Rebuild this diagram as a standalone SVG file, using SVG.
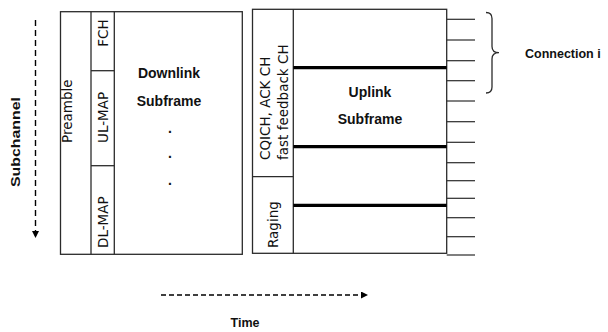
<svg xmlns="http://www.w3.org/2000/svg" width="608" height="332" viewBox="0 0 608 332">
<style>
.box{fill:#fff;stroke:#2b2b2b;stroke-width:1.3}
.ln{stroke:#2b2b2b;stroke-width:1.3;fill:none}
.thick{stroke:#000;stroke-width:3.2}
.tick{stroke:#2b2b2b;stroke-width:1.2}
.rt{font-family:"DejaVu Sans",sans-serif;font-size:13.5px;fill:#111}
.bt{font-family:"Liberation Sans",Arial,sans-serif;font-weight:bold;font-size:14px;fill:#111;text-anchor:middle}
.lbl{font-family:"Liberation Sans",Arial,sans-serif;font-weight:bold;font-size:12.5px;fill:#111}
.dot{font-family:"Liberation Sans",Arial,sans-serif;font-weight:bold;font-size:14px;fill:#111;text-anchor:middle}
</style>
<defs>
<marker id="ah" viewBox="0 0 10 10" refX="10" refY="5" markerWidth="7" markerHeight="7" markerUnits="userSpaceOnUse" orient="auto">
<path d="M0,0 L10,5 L0,10 z" fill="#000"/>
</marker>
</defs>

<g id="downlink">
<rect class="box" x="60.5" y="11.7" width="181.8" height="242.6"/>
<line class="ln" x1="91" y1="11.7" x2="91" y2="254.3"/>
<line class="ln" x1="114.3" y1="11.7" x2="114.3" y2="254.3"/>
<line class="ln" x1="91" y1="70.7" x2="114.3" y2="70.7"/>
<line class="ln" x1="91" y1="165.7" x2="114.3" y2="165.7"/>
<text class="rt" transform="translate(72,143) rotate(-90)">Preamble</text>
<text class="rt" transform="translate(108.3,46.7) rotate(-90)">FCH</text>
<text class="rt" transform="translate(108.3,143) rotate(-90)">UL-MAP</text>
<text class="rt" transform="translate(108.3,248) rotate(-90)">DL-MAP</text>
<text class="bt" x="169" y="78">Downlink</text>
<text class="bt" x="169" y="106">Subframe</text>
<text class="dot" x="170" y="133">.</text>
<text class="dot" x="170" y="158">.</text>
<text class="dot" x="170" y="185">.</text>
</g>

<g id="uplink">
<rect class="box" x="252.5" y="9.3" width="194.2" height="244"/>
<line class="ln" x1="293.3" y1="9.3" x2="293.3" y2="253.3"/>
<line class="ln" x1="252.5" y1="176.7" x2="293.3" y2="176.7"/>
<line class="thick" x1="293.3" y1="67.7" x2="446.7" y2="67.7"/>
<line class="thick" x1="293.3" y1="146.7" x2="446.7" y2="146.7"/>
<line class="thick" x1="293.3" y1="205.3" x2="446.7" y2="205.3"/>
<text class="rt" transform="translate(270,160) rotate(-90)">CQICH, ACK CH</text>
<text class="rt" transform="translate(288.3,160) rotate(-90)">fast feedback CH</text>
<text class="rt" transform="translate(278,248) rotate(-90)">Raging</text>
<text class="bt" x="370" y="97">Uplink</text>
<text class="bt" x="370" y="124">Subframe</text>
</g>

<g id="ticks">
<line class="tick" x1="446.7" y1="19.3" x2="475" y2="19.3"/>
<line class="tick" x1="446.7" y1="40" x2="475" y2="40"/>
<line class="tick" x1="446.7" y1="60.7" x2="475" y2="60.7"/>
<line class="tick" x1="446.7" y1="80.7" x2="475" y2="80.7"/>
<line class="tick" x1="446.7" y1="101" x2="475" y2="101"/>
<line class="tick" x1="446.7" y1="121.7" x2="475" y2="121.7"/>
<line class="tick" x1="446.7" y1="142.3" x2="475" y2="142.3"/>
<line class="tick" x1="446.7" y1="162.7" x2="475" y2="162.7"/>
<line class="tick" x1="446.7" y1="180.7" x2="475" y2="180.7"/>
<line class="tick" x1="446.7" y1="198.3" x2="475" y2="198.3"/>
<line class="tick" x1="446.7" y1="217.7" x2="475" y2="217.7"/>
<line class="tick" x1="446.7" y1="236.7" x2="475" y2="236.7"/>
<line class="tick" x1="446.7" y1="255" x2="475" y2="255"/>
</g>

<g id="connection">
<path class="ln" d="M486,12.5 Q492,12.5 492,18.5 L492,46.5 Q492,52.7 499,52.7 Q492,52.7 492,59 L492,87 Q492,93 486,93"/>
<text class="lbl" x="525" y="58">Connection i</text>
</g>

<g id="connectors">
<line x1="35.5" y1="20" x2="35.5" y2="238" stroke="#000" stroke-width="1.4" stroke-dasharray="6,4" marker-end="url(#ah)"/>
<line x1="161" y1="295" x2="368" y2="295" stroke="#000" stroke-width="1.4" stroke-dasharray="5,3" marker-end="url(#ah)"/>
</g>

<g id="axis-labels">
<text class="lbl" transform="translate(20,187) rotate(-90)" textLength="90" lengthAdjust="spacingAndGlyphs" font-size="14">Subchannel</text>
<text class="lbl" x="245" y="327" text-anchor="middle" font-size="13">Time</text>
</g>
</svg>
